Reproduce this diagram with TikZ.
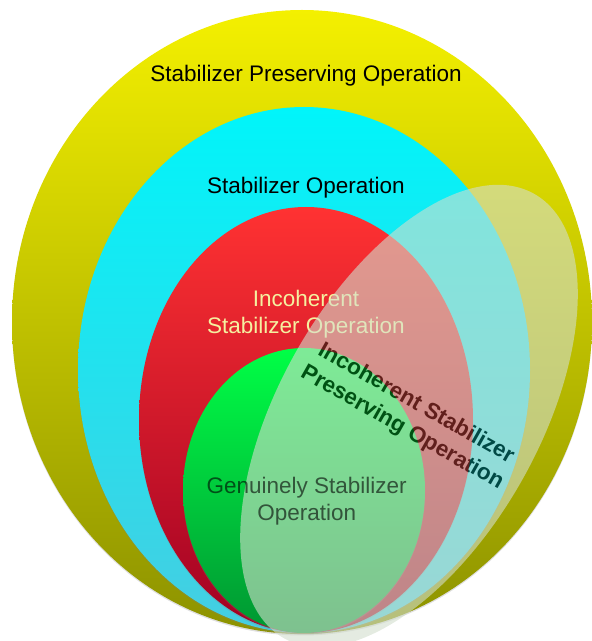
\documentclass[tikz,border=0pt]{standalone}
\usepackage{fontspec}
\setmainfont{Liberation Sans}
\usetikzlibrary{shapes.geometric,shadows}

\definecolor{spoTop}{RGB}{244,240,0}
\definecolor{spoBot}{RGB}{140,146,0}
\definecolor{soTop}{RGB}{0,245,250}
\definecolor{soBot}{RGB}{70,205,225}
\definecolor{isoTop}{RGB}{255,50,50}
\definecolor{isoBot}{RGB}{160,0,35}
\definecolor{gsoTop}{RGB}{0,255,70}
\definecolor{gsoBot}{RGB}{0,150,50}
\definecolor{ispFill}{RGB}{210,222,205}
\definecolor{isoText}{RGB}{245,240,160}

\begin{document}
\begin{tikzpicture}
        [
            x=1pt, y=1pt,
            ring/.style={ellipse, inner sep=0pt, drop shadow={shadow xshift=0pt, shadow yshift=-1.5pt, opacity=0.25}},
            tag/.style={font=\fontsize{22.5}{27}\selectfont, align=center, inner sep=0pt},
        ]
        \useasboundingbox (0,0) rectangle (592,641);
        % nested sets
        \node[ring, top color=spoTop, bottom color=spoBot, minimum width=580pt, minimum height=624pt] (spo) at (302,319) {};
        \node[ring, top color=soTop, bottom color=soBot, minimum width=452pt, minimum height=526pt] (so) at (304,271) {};
        \node[ring, top color=isoTop, bottom color=isoBot, minimum width=334pt, minimum height=426pt] (iso) at (306,221) {};
        \node[ring, top color=gsoTop, bottom color=gsoBot, minimum width=242pt, minimum height=285pt] (gso) at (304,150.5) {};
        \node[tag, anchor=base] (spoLabel) at (306,559) {Stabilizer Preserving Operation};
        \node[tag, anchor=base] (soLabel) at (306,447) {Stabilizer Operation};
        \node[tag, text=isoText] (isoLabel) at (306,327) {Incoherent\\Stabilizer Operation};
        % overlapping set
        \node[ellipse, inner sep=0pt, fill=ispFill, fill opacity=0.6, rotate=60.6, minimum width=510pt, minimum height=260pt] (isp) at (409,225) {};
        \node[tag, text=black, text opacity=0.6] (gsoLabel) at (306.7,139.5) {Genuinely Stabilizer\\Operation};
        \begin{scope}[blend mode=luminosity]
          \node[tag, font=\bfseries\fontsize{22.5}{28}\selectfont, text=black!80, rotate=-29.5] (ispLabel) at (isp.center) {Incoherent Stabilizer\\Preserving Operation};
        \end{scope}
      \end{tikzpicture}
\end{document}
